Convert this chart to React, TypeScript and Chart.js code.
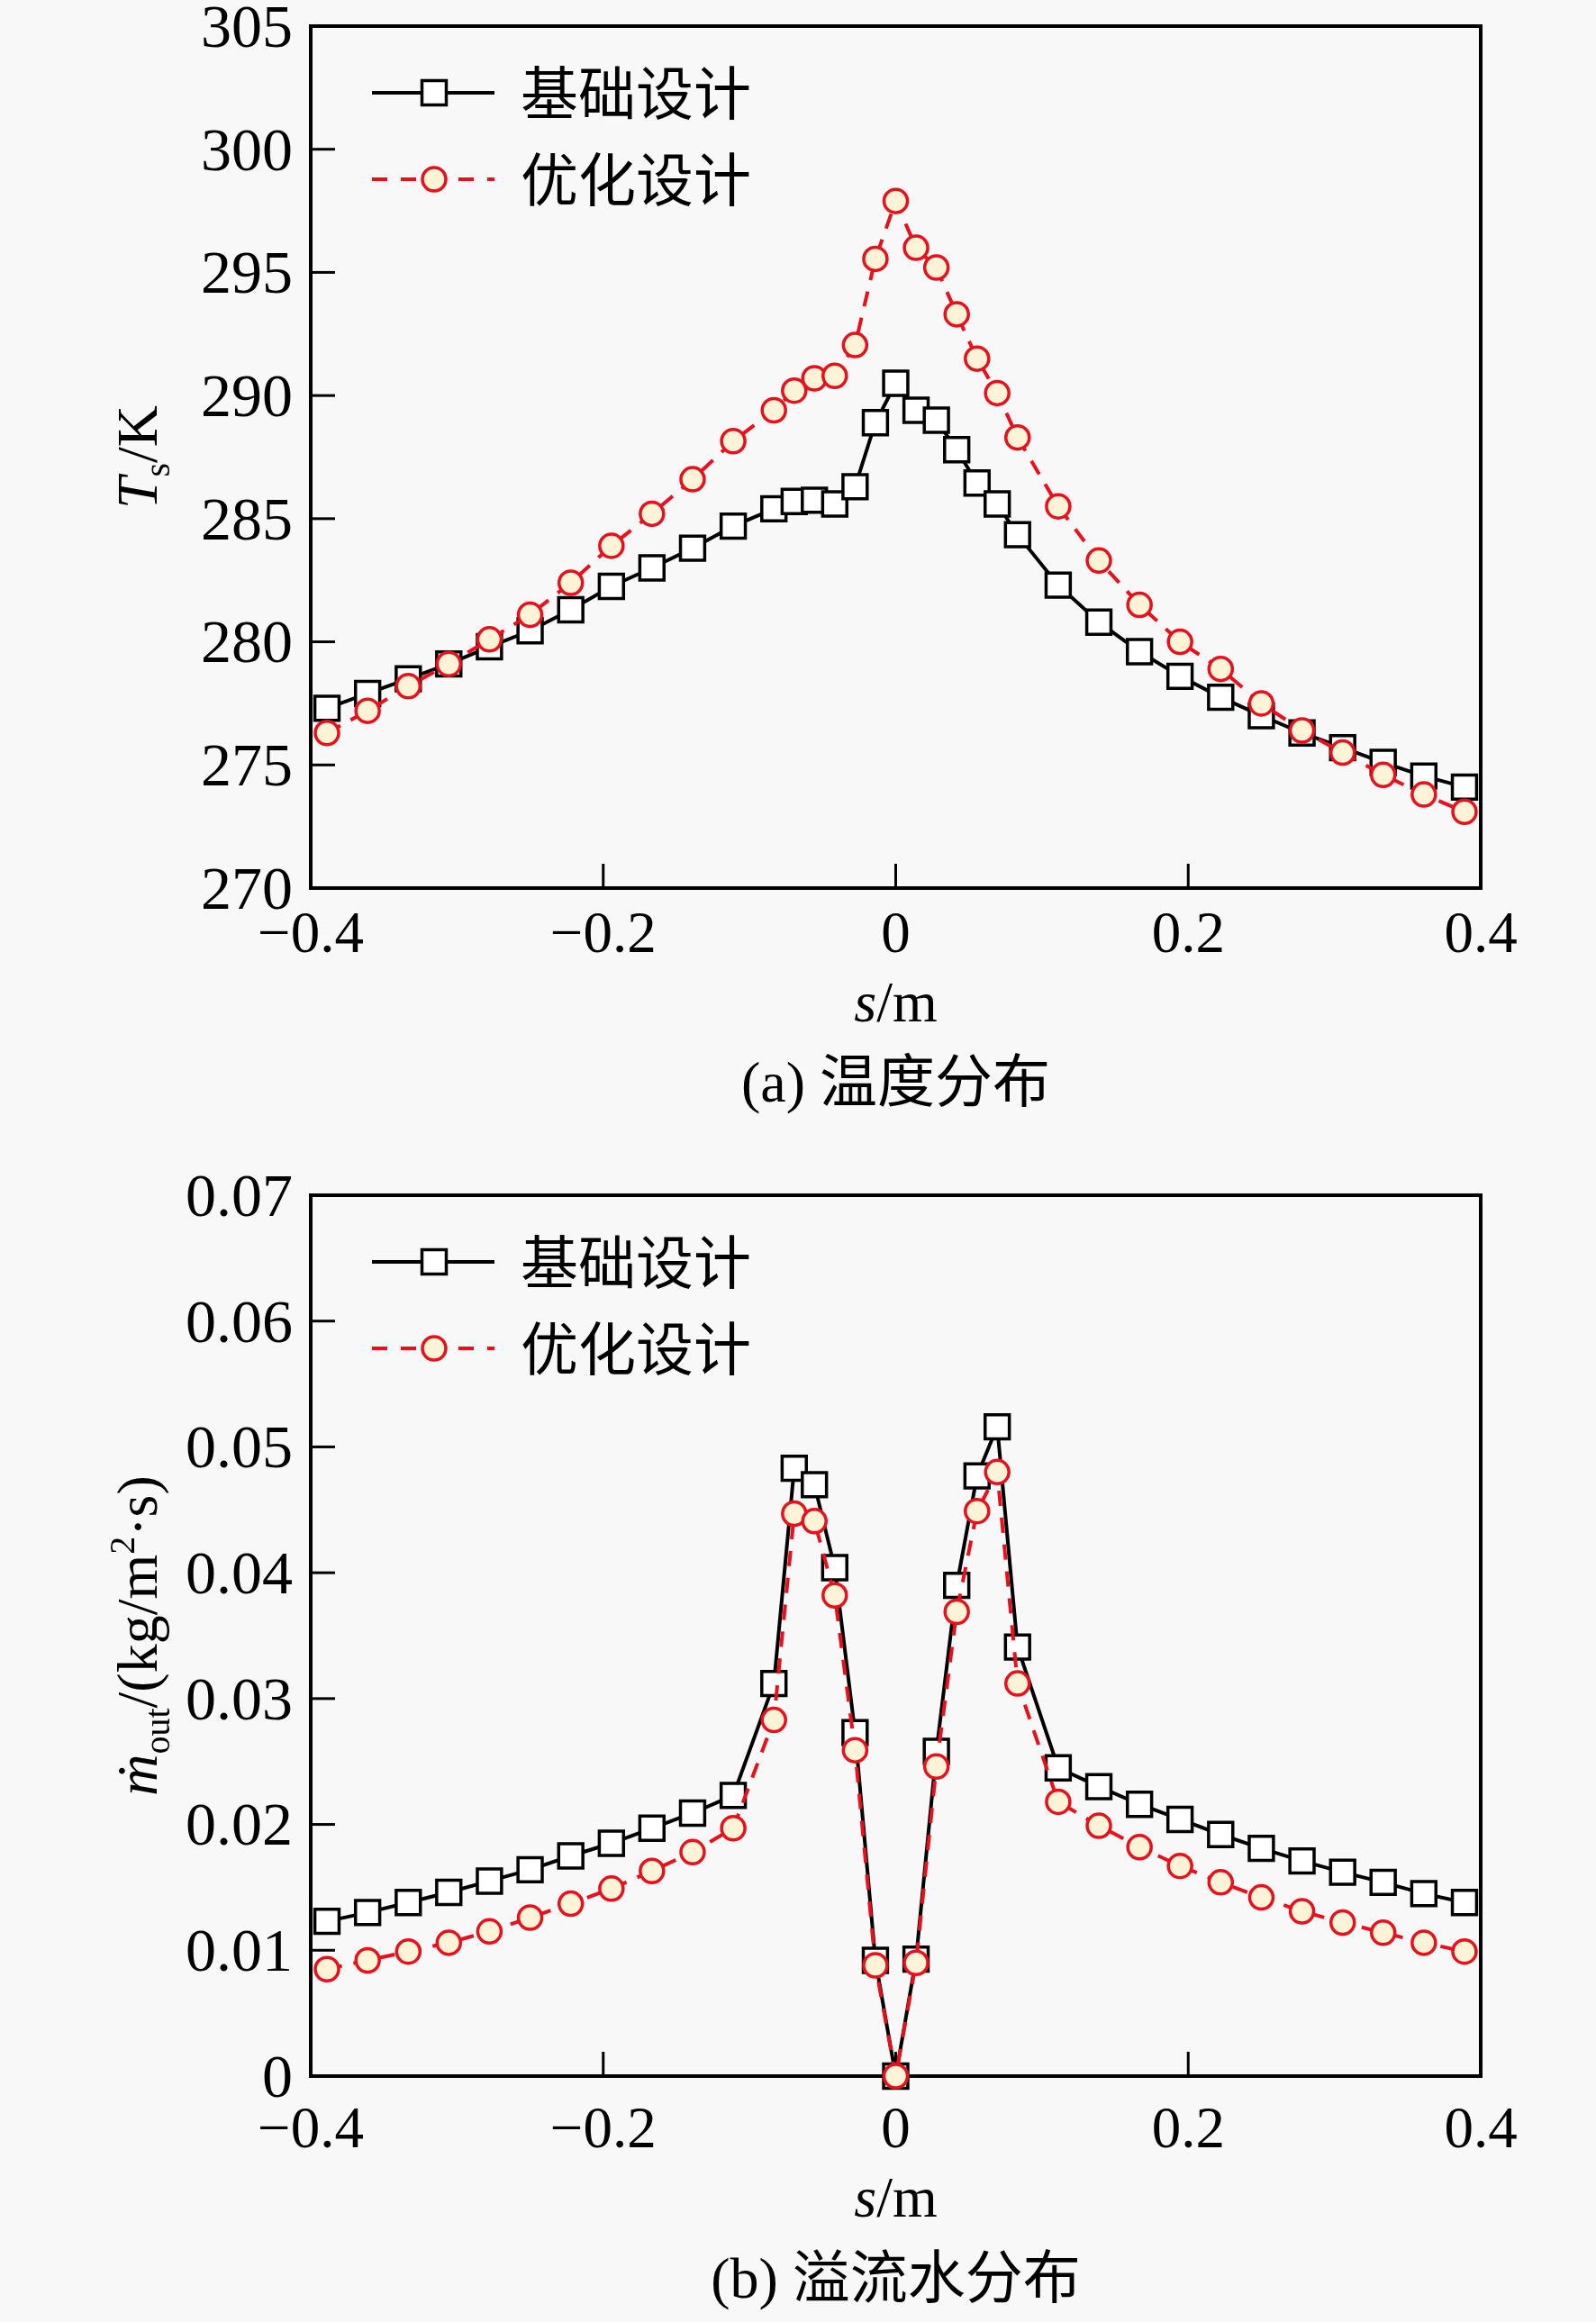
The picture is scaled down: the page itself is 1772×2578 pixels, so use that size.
import { useEffect, useRef } from 'react';
import { Chart, registerables, type Plugin } from 'chart.js';

Chart.register(...registerables);

const SERIF = "'Liberation Serif', 'DejaVu Serif', 'Noto Sans CJK SC', serif";
const BG = '#f8f8f8';
const RED = '#e8101c';
const CREAM = '#fdf3d6';

const PLOT_LEFT = 345;
const PLOT_RIGHT = 1644;
const WIDTH = 1772;

// s positions along the surface (m)
const sPos = [
  -0.3889, -0.3611, -0.3333, -0.3056, -0.2778, -0.25, -0.2222, -0.1944, -0.1667, -0.1389, -0.1111,
  -0.0833, -0.0694, -0.0556, -0.0417, -0.0278, -0.0139, 0, 0.0139, 0.0278, 0.0417, 0.0556, 0.0694,
  0.0833, 0.1111, 0.1389, 0.1667, 0.1944, 0.2222, 0.25, 0.2778, 0.3056, 0.3333, 0.3611, 0.3889,
];

const tempBase = [
  277.3, 277.9, 278.5, 279.1, 279.8, 280.45, 281.3, 282.25, 283.0, 283.8, 284.7, 285.4, 285.7,
  285.75, 285.6, 286.3, 288.9, 290.5, 289.4, 289.0, 287.8, 286.45, 285.6, 284.35, 282.3, 280.8,
  279.6, 278.6, 277.75, 277.0, 276.3, 275.7, 275.1, 274.55, 274.1,
];
const tempOpt = [
  276.3, 277.2, 278.2, 279.1, 280.1, 281.1, 282.4, 283.9, 285.2, 286.6, 288.15, 289.4, 290.2,
  290.7, 290.8, 292.05, 295.55, 297.9, 296.0, 295.2, 293.3, 291.5, 290.1, 288.3, 285.5, 283.3,
  281.5, 280.0, 278.9, 277.5, 276.4, 275.5, 274.6, 273.8, 273.1,
];

const flowBase = [
  0.0123, 0.013, 0.0138, 0.0146, 0.0155, 0.0164, 0.0175, 0.0185, 0.0197, 0.0209, 0.0223, 0.0312,
  0.0483, 0.047, 0.0404, 0.0273, 0.0092, 0, 0.0093, 0.0258, 0.039, 0.0477, 0.0516, 0.0341, 0.0245,
  0.023, 0.0216, 0.0204, 0.0192, 0.0181, 0.0171, 0.0162, 0.0154, 0.0145, 0.0138,
];
const flowOpt = [
  0.0085, 0.0092, 0.0099, 0.0106, 0.0115, 0.0126, 0.0137, 0.0149, 0.0163, 0.0178, 0.0197, 0.0283,
  0.0447, 0.0441, 0.0382, 0.0259, 0.0088, 0, 0.009, 0.0246, 0.0369, 0.0449, 0.048, 0.0312, 0.0218,
  0.0199, 0.0182, 0.0167, 0.0154, 0.0142, 0.0131, 0.0122, 0.0114, 0.0106, 0.0099,
];

const sTicks = [-0.4, -0.2, 0, 0.2, 0.4];
const tempTicks = [270, 275, 280, 285, 290, 295, 300, 305];
const flowTicks = [0, 0.01, 0.02, 0.03, 0.04, 0.05, 0.06, 0.07];
const seriesNames = ['基础设计', '优化设计'];

type Run = { t: string; italic?: boolean; sub?: boolean; sup?: boolean };

function drawRuns(ctx: CanvasRenderingContext2D, runs: Run[], cx: number, cy: number, size: number) {
  const fontOf = (r: Run) =>
    `${r.italic ? 'italic ' : ''}${r.sub || r.sup ? Math.round(size * 0.62) : size}px ${SERIF}`;
  const widths = runs.map((r) => {
    ctx.font = fontOf(r);
    return ctx.measureText(r.t).width;
  });
  const total = widths.reduce((a, b) => a + b, 0);
  let x = cx - total / 2;
  const baseline = cy + size * 0.33;
  ctx.fillStyle = '#000';
  ctx.textBaseline = 'alphabetic';
  ctx.textAlign = 'left';
  runs.forEach((r, i) => {
    ctx.font = fontOf(r);
    const dy = r.sub ? size * 0.22 : r.sup ? -size * 0.4 : 0;
    ctx.fillText(r.t, x, baseline + dy);
    x += widths[i];
  });
}

const fmtS = (v: number) => (v === 0 ? '0' : (v < 0 ? '\u2212' : '') + Math.abs(v).toFixed(1));

interface PanelProps {
  top: number;
  height: number;
  plotTop: number;
  plotBottom: number;
  labelPad: number;
  yTicks: number[];
  yFmt: (v: number) => string;
  base: number[];
  opt: number[];
  yTitle: Run[];
  xTitleY: number;
  captionY: number;
  caption: string;
}

function Panel(p: PanelProps) {
  const canvasRef = useRef<HTMLCanvasElement | null>(null);

  useEffect(() => {
    const canvas = canvasRef.current;
    if (!canvas) return;

    const framePlugin: Plugin<'line'> = {
      id: 'frame',
      beforeDatasetsDraw(chart) {
        const { ctx, chartArea: a, scales } = chart;
        ctx.save();
        ctx.strokeStyle = '#000';
        ctx.lineWidth = 3;
        sTicks.slice(1, -1).forEach((v) => {
          const px = scales.x.getPixelForValue(v);
          ctx.beginPath();
          ctx.moveTo(px, a.bottom);
          ctx.lineTo(px, a.bottom - 27);
          ctx.stroke();
        });
        p.yTicks.slice(1, -1).forEach((v) => {
          const py = scales.y.getPixelForValue(v);
          ctx.beginPath();
          ctx.moveTo(a.left, py);
          ctx.lineTo(a.left + 27, py);
          ctx.stroke();
        });
        ctx.lineWidth = 4;
        ctx.strokeRect(a.left, a.top, a.right - a.left, a.bottom - a.top);
        ctx.restore();
      },
    };

    const textPlugin: Plugin<'line'> = {
      id: 'texts',
      afterDraw(chart) {
        const { ctx, chartArea: a } = chart;
        ctx.save();
        // legend
        [0, 1].forEach((i) => {
          const y = a.top + (i === 0 ? 74 : 170);
          const mx = a.left + 137;
          ctx.lineWidth = 4;
          ctx.strokeStyle = i === 0 ? '#000' : RED;
          ctx.setLineDash(i === 0 ? [] : [17, 15]);
          ctx.beginPath();
          ctx.moveTo(a.left + 68, y);
          ctx.lineTo(a.left + 204, y);
          ctx.stroke();
          ctx.setLineDash([]);
          ctx.lineWidth = 3.5;
          if (i === 0) {
            ctx.fillStyle = '#fff';
            ctx.fillRect(mx - 13.5, y - 13.5, 27, 27);
            ctx.strokeRect(mx - 13.5, y - 13.5, 27, 27);
          } else {
            ctx.fillStyle = CREAM;
            ctx.beginPath();
            ctx.arc(mx, y, 13, 0, Math.PI * 2);
            ctx.fill();
            ctx.stroke();
          }
          ctx.fillStyle = '#000';
          ctx.font = `64px ${SERIF}`;
          ctx.textAlign = 'left';
          ctx.textBaseline = 'middle';
          ctx.fillText(seriesNames[i], a.left + 233, y + 7);
        });
        const cx = (a.left + a.right) / 2;
        drawRuns(ctx, [{ t: 's', italic: true }, { t: '/m' }], cx, p.xTitleY, 64);
        drawRuns(ctx, [{ t: p.caption }], cx, p.captionY, 64);
        ctx.translate(153, (a.top + a.bottom) / 2);
        ctx.rotate(-Math.PI / 2);
        drawRuns(ctx, p.yTitle, 0, 0, 64);
        ctx.restore();
      },
    };

    const chart = new Chart(canvas, {
      type: 'line',
      data: {
        datasets: [
          {
            label: seriesNames[0],
            data: sPos.map((x, i) => ({ x, y: p.base[i] })),
            borderColor: '#000',
            borderWidth: 4,
            pointStyle: 'rect',
            pointRadius: 19,
            pointBorderWidth: 3.5,
            pointBorderColor: '#000',
            pointBackgroundColor: '#fff',
            tension: 0,
            clip: false,
            order: 2,
          },
          {
            label: seriesNames[1],
            data: sPos.map((x, i) => ({ x, y: p.opt[i] })),
            borderColor: RED,
            borderWidth: 4,
            borderDash: [17, 13],
            pointStyle: 'circle',
            pointRadius: 13,
            pointBorderWidth: 3.5,
            pointBorderColor: RED,
            pointBackgroundColor: CREAM,
            tension: 0,
            clip: false,
            order: 1,
          },
        ],
      },
      options: {
        animation: false,
        responsive: false,
        events: [],
        layout: { padding: { top: p.plotTop, right: WIDTH - PLOT_RIGHT, left: 0, bottom: 0 } },
        plugins: { legend: { display: false }, tooltip: { enabled: false } },
        scales: {
          x: {
            type: 'linear',
            min: -0.4,
            max: 0.4,
            afterBuildTicks: (s) => {
              s.ticks = sTicks.map((value) => ({ value }));
            },
            afterFit: (s) => {
              s.height = p.height - p.plotBottom;
              s.paddingLeft = 0;
              s.paddingRight = 0;
            },
            ticks: {
              callback: (v) => fmtS(Number(v)),
              font: { family: SERIF, size: 65 },
              color: '#000',
              padding: p.labelPad,
              maxRotation: 0,
              autoSkip: false,
            },
            grid: { display: false },
            border: { display: false },
          },
          y: {
            type: 'linear',
            min: p.yTicks[0],
            max: p.yTicks[p.yTicks.length - 1],
            afterBuildTicks: (s) => {
              s.ticks = p.yTicks.map((value) => ({ value }));
            },
            afterFit: (s) => {
              s.width = PLOT_LEFT;
              s.paddingTop = 0;
              s.paddingBottom = 0;
            },
            ticks: {
              callback: (v) => p.yFmt(Number(v)),
              font: { family: SERIF, size: 68 },
              color: '#000',
              padding: 12,
              labelOffset: 5,
              autoSkip: false,
            },
            grid: { display: false },
            border: { display: false },
          },
        },
      },
      plugins: [framePlugin, textPlugin],
    });

    return () => {
      chart.destroy();
    };
  }, []);

  return (
    <div style={{ position: 'absolute', left: 0, top: p.top, width: WIDTH, height: p.height }}>
      <canvas ref={canvasRef} width={WIDTH} height={p.height} style={{ width: WIDTH, height: p.height }} />
    </div>
  );
}

export default function App() {
  return (
    <div
      style={{
        position: 'absolute',
        left: 0,
        top: 0,
        width: WIDTH,
        height: 2578,
        background: BG,
        overflow: 'hidden',
      }}
    >
      <Panel
        top={0}
        height={1290}
        plotTop={29}
        plotBottom={986}
        labelPad={7}
        yTicks={tempTicks}
        yFmt={(v) => String(v)}
        base={tempBase}
        opt={tempOpt}
        yTitle={[{ t: 'T', italic: true }, { t: 's', sub: true }, { t: '/K' }]}
        xTitleY={1113}
        captionY={1202}
        caption="(a) 温度分布"
      />
      <Panel
        top={1290}
        height={1288}
        plotTop={37}
        plotBottom={1015}
        labelPad={15}
        yTicks={flowTicks}
        yFmt={(v) => (v === 0 ? '0' : v.toFixed(2))}
        base={flowBase}
        opt={flowOpt}
        yTitle={[
          { t: 'ṁ', italic: true },
          { t: 'out', sub: true },
          { t: '/(kg/m' },
          { t: '2', sup: true },
          { t: '·s)' },
        ]}
        xTitleY={1150}
        captionY={1240}
        caption="(b) 溢流水分布"
      />
    </div>
  );
}
